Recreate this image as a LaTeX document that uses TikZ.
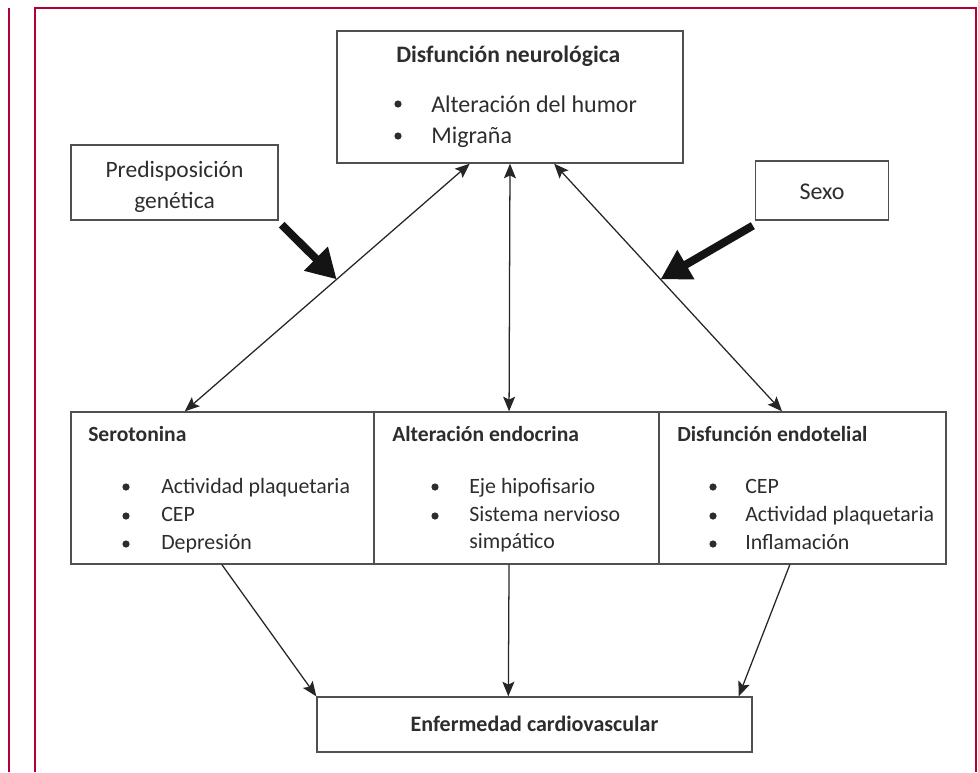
\documentclass[tikz,border=0pt]{standalone}
\usepackage{fontspec}
\setmainfont{Carlito}
\usetikzlibrary{arrows.meta,calc}
\definecolor{framered}{RGB}{178,0,52}
\definecolor{txt}{RGB}{45,45,45}
\definecolor{boxline}{RGB}{80,80,80}
\tikzset{
  box/.style={draw=boxline, line width=1pt, rectangle, inner sep=0pt},
  lbl/.style={anchor=base west, inner sep=0pt, text=txt, font=\fontsize{18pt}{20pt}\selectfont},
  lblb/.style={lbl, font=\fontsize{17.7pt}{20pt}\selectfont\bfseries},
  ctr/.style={lbl, anchor=base},
  ctrb/.style={lbl, anchor=base, font=\fontsize{16.5pt}{18pt}\selectfont\bfseries},
  mlbl/.style={lbl, font=\fontsize{16.4pt}{18pt}\selectfont},
  mlblb/.style={lbl, font=\fontsize{16.2pt}{18pt}\selectfont\bfseries},
  bul/.style={fill=txt},
  link/.style={draw=black!85, line width=0.95pt, {Stealth[length=11pt,width=9pt,inset=2.2pt]}-{Stealth[length=11pt,width=9pt,inset=2.2pt]}},
  onearrow/.style={draw=black!85, line width=0.95pt, -{Stealth[length=11pt,width=9pt,inset=2.2pt]}},
  fatarrow/.style={draw=black!92, line width=6pt, -{Triangle[length=22pt,width=24pt]}},
  frameline/.style={draw=framered, line width=2.2pt}
}
\begin{document}
\begin{tikzpicture}[x=0.75pt,y=-0.75pt]
\useasboundingbox (0,0) rectangle (978,772);
% frame
\draw[frameline] (35,772) -- (35,8) -- (976,8) -- (976,772);
\draw[frameline] (9,8) -- (9,772);
% boxes
\node[box, minimum width=259.5pt, minimum height=99pt] (neuro) at (510,97) {};
\node[box, minimum width=155.25pt, minimum height=56.25pt] (pred) at (174.5,182.5) {};
\node[box, minimum width=99.75pt, minimum height=44.25pt] (sexo) at (822,190.5) {};
\node[box, minimum width=227.25pt, minimum height=114pt] (sero) at (222.5,488) {};
\node[box, minimum width=213.75pt, minimum height=114pt] (endo) at (516.5,488) {};
\node[box, minimum width=215.25pt, minimum height=114pt] (endot) at (802.5,488) {};
\node[box, minimum width=326.25pt, minimum height=41.25pt] (ecv) at (534.5,724.5) {};
% texts top box
\node[lblb] (t1) at (396,62) {Disfunción neurológica};
\fill[bul] (398,104) circle (3.6);
\node[lbl] (t2) at (431,112) {Alteración del humor};
\fill[bul] (398,136) circle (3.6);
\node[lbl] (t3) at (431,143) {Migraña};
% pred / sexo
\node[ctr, font=\fontsize{17.6pt}{20pt}\selectfont] (p1) at (174.5,177) {Predisposición};
\node[ctr, font=\fontsize{17.6pt}{20pt}\selectfont] (p2) at (174.5,208) {genética};
\node[ctr] (s1) at (822,199) {Sexo};
% serotonina
\node[mlblb] (a0) at (88,441) {Serotonina};
\fill[bul] (126,487) circle (3.6);
\node[mlbl] (a1) at (161,493) {Actividad plaquetaria};
\fill[bul] (126,516) circle (3.6);
\node[mlbl] (a2) at (161,521) {CEP};
\fill[bul] (126,544) circle (3.6);
\node[mlbl] (a3) at (161,549) {Depresión};
% endocrina
\node[mlblb] (b0) at (392,441) {Alteración endocrina};
\fill[bul] (435,487) circle (3.6);
\node[mlbl] (b1) at (469,493) {Eje hipofisario};
\fill[bul] (435,516) circle (3.6);
\node[mlbl] (b2) at (469,521) {Sistema nervioso};
\node[mlbl] (b3) at (469,548) {simpático};
% endotelial
\node[mlblb] (c0) at (677,441) {Disfunción endotelial};
\fill[bul] (713,487) circle (3.6);
\node[mlbl] (c1) at (745,493) {CEP};
\fill[bul] (713,516) circle (3.6);
\node[mlbl] (c2) at (745,521) {Actividad plaquetaria};
\fill[bul] (713,544) circle (3.6);
\node[mlbl] (c3) at (745,549) {Inflamación};
% bottom
\node[ctrb] (e1) at (534.5,731) {Enfermedad cardiovascular};
% connector endpoints
\coordinate (nL) at ($(neuro.south west)!0.384!(neuro.south east)$);
\coordinate (nM) at ($(neuro.south west)!0.5!(neuro.south east)$);
\coordinate (nR) at ($(neuro.south west)!0.627!(neuro.south east)$);
\coordinate (sT) at ($(sero.north west)!0.376!(sero.north east)$);
\coordinate (eT) at ($(endo.north west)!0.474!(endo.north east)$);
\coordinate (dT) at ($(endot.north west)!0.429!(endot.north east)$);
\coordinate (sB) at ($(sero.south west)!0.498!(sero.south east)$);
\coordinate (eB) at ($(endo.south west)!0.474!(endo.south east)$);
\coordinate (dB) at ($(endot.south west)!0.456!(endot.south east)$);
\coordinate (cM) at ($(ecv.north west)!0.44!(ecv.north east)$);
\coordinate (cR) at ($(ecv.north west)!0.968!(ecv.north east)$);
\draw[link] (sT) -- (nL);
\draw[link] (eT) -- (nM);
\draw[link] (dT) -- (nR);
\draw[onearrow] (sB) -- (ecv.north west);
\draw[onearrow] (eB) -- (cM);
\draw[onearrow] (dB) -- (cR);
% thick arrows
\coordinate (hitL) at ($(sT)!0.533!(nL)$);
\coordinate (hitR) at ($(nR)!0.467!(dT)$);
\draw[fatarrow] ($(pred.south east)+(3,4)$) -- (hitL);
\draw[fatarrow] ($(sexo.south west)+(-2,5)$) -- (hitR);
\end{tikzpicture}
\end{document}
